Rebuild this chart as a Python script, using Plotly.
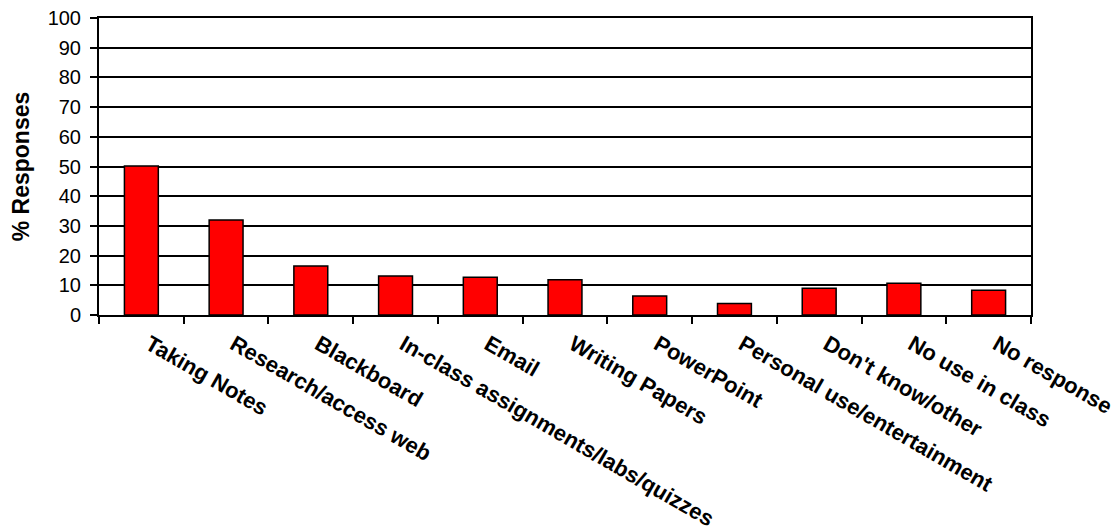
import plotly.graph_objects as go

categories = ["Taking Notes", "Research/access web", "Blackboard",
              "In-class assignments/labs/quizzes", "Email", "Writing Papers",
              "PowerPoint", "Personal use/entertainment", "Don't know/other",
              "No use in class", "No response"]
values = [50.2, 32.0, 16.5, 13.1, 12.7, 11.9, 6.4, 3.9, 9.0, 10.7, 8.3]
y_ticks = [0, 10, 20, 30, 40, 50, 60, 70, 80, 90, 100]

fig = go.Figure(go.Bar(
    x=categories, y=values,
    marker=dict(color="#FF0000", line=dict(color="#000000", width=1.5)),
))

fig.update_layout(
    width=1120, height=531,
    margin=dict(l=99, r=89, t=18, b=216, autoexpand=False),
    paper_bgcolor="white", plot_bgcolor="white",
    bargap=0.6, showlegend=False,
    font=dict(family="Liberation Sans, Arial, sans-serif", color="black"),
)
fig.update_xaxes(
    type="category", showline=True, linecolor="black", linewidth=2, mirror=True,
    ticks="outside", tickson="boundaries", ticklen=7, tickwidth=2, tickcolor="black",
    tickangle=30, showgrid=False, ticklabelshift=8, ticklabelstandoff=6,
    tickfont=dict(size=22, family="Liberation Sans, Arial, sans-serif", weight="bold"),
)
fig.update_yaxes(
    range=[0, 100], tickvals=y_ticks, showline=True, linecolor="black", linewidth=2,
    mirror=True, ticks="outside", ticklen=7, tickwidth=2, tickcolor="black",
    showgrid=True, gridcolor="black", gridwidth=1.5, zeroline=False,
    tickfont=dict(size=20), ticklabelstandoff=5,
    title=dict(text="% Responses", standoff=12,
               font=dict(size=23, weight="bold")),
)

fig.write_html("out.html")
